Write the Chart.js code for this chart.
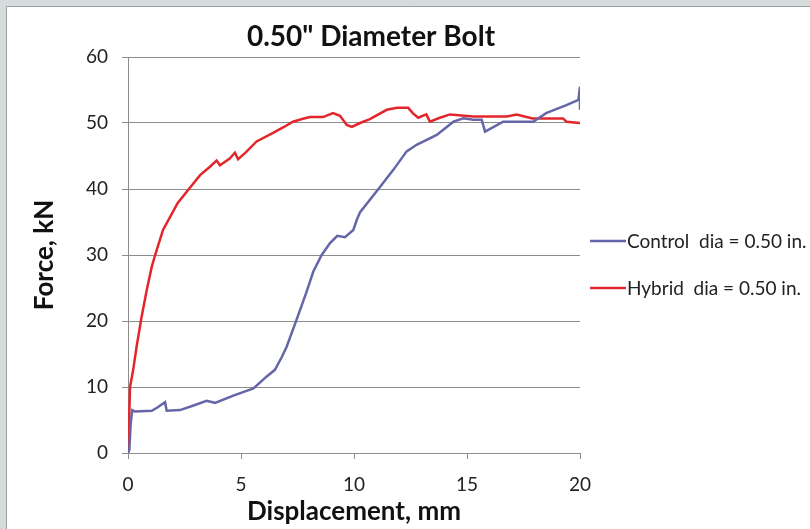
<!DOCTYPE html>
<html>
<head>
<meta charset="utf-8">
<script src="https://cdn.jsdelivr.net/npm/chart.js@4/dist/chart.umd.min.js"></script>
<style>
  html, body { margin: 0; padding: 0; background: #fff; }
  #wrap { position: relative; width: 810px; height: 529px; }
</style>
</head>
<body>
<div id="wrap"><canvas id="c" width="810" height="529"></canvas></div>
<script>
(function () {
  'use strict';

  const TITLE = '0.50" Diameter Bolt';
  const X_TITLE = 'Displacement, mm';
  const Y_TITLE = 'Force, kN';
  const SERIES_LABELS = ['Control  dia = 0.50 in.', 'Hybrid  dia = 0.50 in.'];

  // control bolt, displacement (mm) / force (kN)
  const controlX = [0, 0.06, 0.12, 0.19, 0.3, 1.05, 1.3, 1.64, 1.71, 2.3, 2.9, 3.48, 3.85, 4.66, 5.55,
    6.14, 6.5, 6.8, 7.02, 7.46, 7.9, 8.2, 8.57, 8.94, 9.26, 9.6, 9.97, 10.12, 10.27, 11.15, 11.74,
    12.33, 12.77, 13.66, 14.4, 14.84, 15.28, 15.65, 15.8, 16.6, 17.93, 18.5, 19.4, 19.93, 20, 20];
  const controlY = [0, 0.5, 4.5, 6.5, 6.3, 6.4, 6.9, 7.7, 6.4, 6.5, 7.2, 7.9, 7.6, 8.7, 9.8,
    11.6, 12.6, 14.5, 16.1, 20.2, 24.4, 27.5, 30, 31.8, 32.9, 32.7, 33.8, 35.3, 36.5, 40.3, 42.9,
    45.7, 46.7, 48.2, 50.2, 50.7, 50.5, 50.5, 48.7, 50.2, 50.2, 51.5, 52.7, 53.5, 55.5, 52];

  // hybrid bolt
  const hybridX = [0, 0.05, 0.09, 0.23, 0.38, 0.6, 0.83, 1.05, 1.2, 1.55, 2.2, 2.74, 3.19, 3.6, 3.92,
    4.07, 4.5, 4.73, 4.87, 5.2, 5.69, 6.42, 6.9, 7.3, 7.7, 8.05, 8.63, 9.07, 9.38, 9.68, 9.9, 10.27,
    10.7, 11.45, 11.9, 12.4, 12.6, 12.84, 13.2, 13.36, 13.8, 14.25, 15.27, 16.76, 17.2, 17.9, 19.25,
    19.4, 20];
  const hybridY = [0, 5, 10, 12.6, 16.1, 20.6, 24.7, 28.2, 30, 33.8, 37.9, 40.2, 42.1, 43.3, 44.3,
    43.6, 44.6, 45.5, 44.5, 45.5, 47.2, 48.5, 49.4, 50.2, 50.6, 50.9, 50.9, 51.5, 51.1, 49.7, 49.4, 50,
    50.6, 52, 52.3, 52.3, 51.5, 50.8, 51.3, 50.2, 50.8, 51.3, 51, 51, 51.3, 50.7, 50.7,
    50.2, 50];

  const X_TICKS = [0, 5, 10, 15, 20];
  const Y_TICKS = [0, 10, 20, 30, 40, 50, 60];

  const COLORS = ['#6566a8', '#e3262c'];
  const FONT = 'Lato, "Open Sans", sans-serif';

  function toPoints(xs, ys) {
    return xs.map((x, i) => ({ x: x, y: ys[i] }));
  }

  // grey frame round the white panel
  const framePlugin = {
    id: 'frame',
    beforeDraw(chart) {
      const ctx = chart.ctx;
      ctx.save();
      ctx.fillStyle = '#d6dcdc';
      ctx.fillRect(0, 0, chart.width, chart.height);
      ctx.fillStyle = '#ffffff';
      ctx.fillRect(7, 7, chart.width - 7, chart.height - 7);
      ctx.strokeStyle = '#9aa0a0';
      ctx.lineWidth = 1;
      ctx.beginPath();
      ctx.moveTo(6.5, chart.height);
      ctx.lineTo(6.5, 6.5);
      ctx.lineTo(chart.width, 6.5);
      ctx.stroke();
      ctx.restore();
    }
  };

  // title and the legend sit where Excel put them
  const textPlugin = {
    id: 'texts',
    afterDraw(chart) {
      const ctx = chart.ctx;
      ctx.save();
      ctx.fillStyle = '#111';
      ctx.font = 'bold 28px ' + FONT;
      ctx.textAlign = 'center';
      ctx.textBaseline = 'middle';
      ctx.fillText(TITLE, 371, 37);

      const rows = [241, 288];
      chart.data.datasets.forEach((ds, i) => {
        ctx.strokeStyle = ds.borderColor;
        ctx.lineWidth = 2.5;
        ctx.beginPath();
        ctx.moveTo(590, rows[i]);
        ctx.lineTo(626, rows[i]);
        ctx.stroke();
        ctx.fillStyle = '#222';
        ctx.font = '19px ' + FONT;
        ctx.textAlign = 'left';
        ctx.fillText(ds.label, 627, rows[i] + 1);
      });
      ctx.restore();
    }
  };

  new Chart(document.getElementById('c'), {
    type: 'scatter',
    data: {
      datasets: [
        {
          label: SERIES_LABELS[0],
          data: toPoints(controlX, controlY),
          borderColor: COLORS[0],
          backgroundColor: COLORS[0]
        },
        {
          label: SERIES_LABELS[1],
          data: toPoints(hybridX, hybridY),
          borderColor: COLORS[1],
          backgroundColor: COLORS[1]
        }
      ]
    },
    options: {
      responsive: false,
      animation: false,
      showLine: true,
      elements: {
        point: { radius: 0, hoverRadius: 0 },
        line: { borderWidth: 2.5, tension: 0 }
      },
      layout: { padding: { top: 57, right: 230, bottom: 0, left: 0 } },
      plugins: {
        legend: { display: false },
        title: { display: false },
        tooltip: { enabled: false }
      },
      scales: {
        x: {
          type: 'linear',
          min: 0,
          max: 20,
          afterBuildTicks: s => { s.ticks = X_TICKS.map(v => ({ value: v })); },
          afterFit: s => { s.height = 76; },
          grid: { drawOnChartArea: false, drawTicks: true, tickLength: 6, color: '#8c8c8c' },
          border: { display: true, color: '#8c8c8c' },
          ticks: { color: '#222', font: { family: FONT, size: 19 }, padding: 14 },
          title: {
            display: true,
            text: X_TITLE,
            color: '#111',
            font: { family: FONT, size: 26, weight: 'bold' },
            padding: { top: 0, bottom: 2 }
          }
        },
        y: {
          type: 'linear',
          min: 0,
          max: 60,
          afterBuildTicks: s => { s.ticks = Y_TICKS.map(v => ({ value: v })); },
          afterFit: s => { s.width = 128; },
          grid: { color: '#8c8c8c', drawTicks: true, tickLength: 6 },
          border: { display: true, color: '#8c8c8c' },
          ticks: { color: '#222', font: { family: FONT, size: 19 }, padding: 14 },
          title: {
            display: true,
            text: Y_TITLE,
            color: '#111',
            font: { family: FONT, size: 26, weight: 'bold' },
            padding: { top: 29, bottom: 0 }
          }
        }
      }
    },
    plugins: [framePlugin, textPlugin]
  });
})();
</script>
</body>
</html>
